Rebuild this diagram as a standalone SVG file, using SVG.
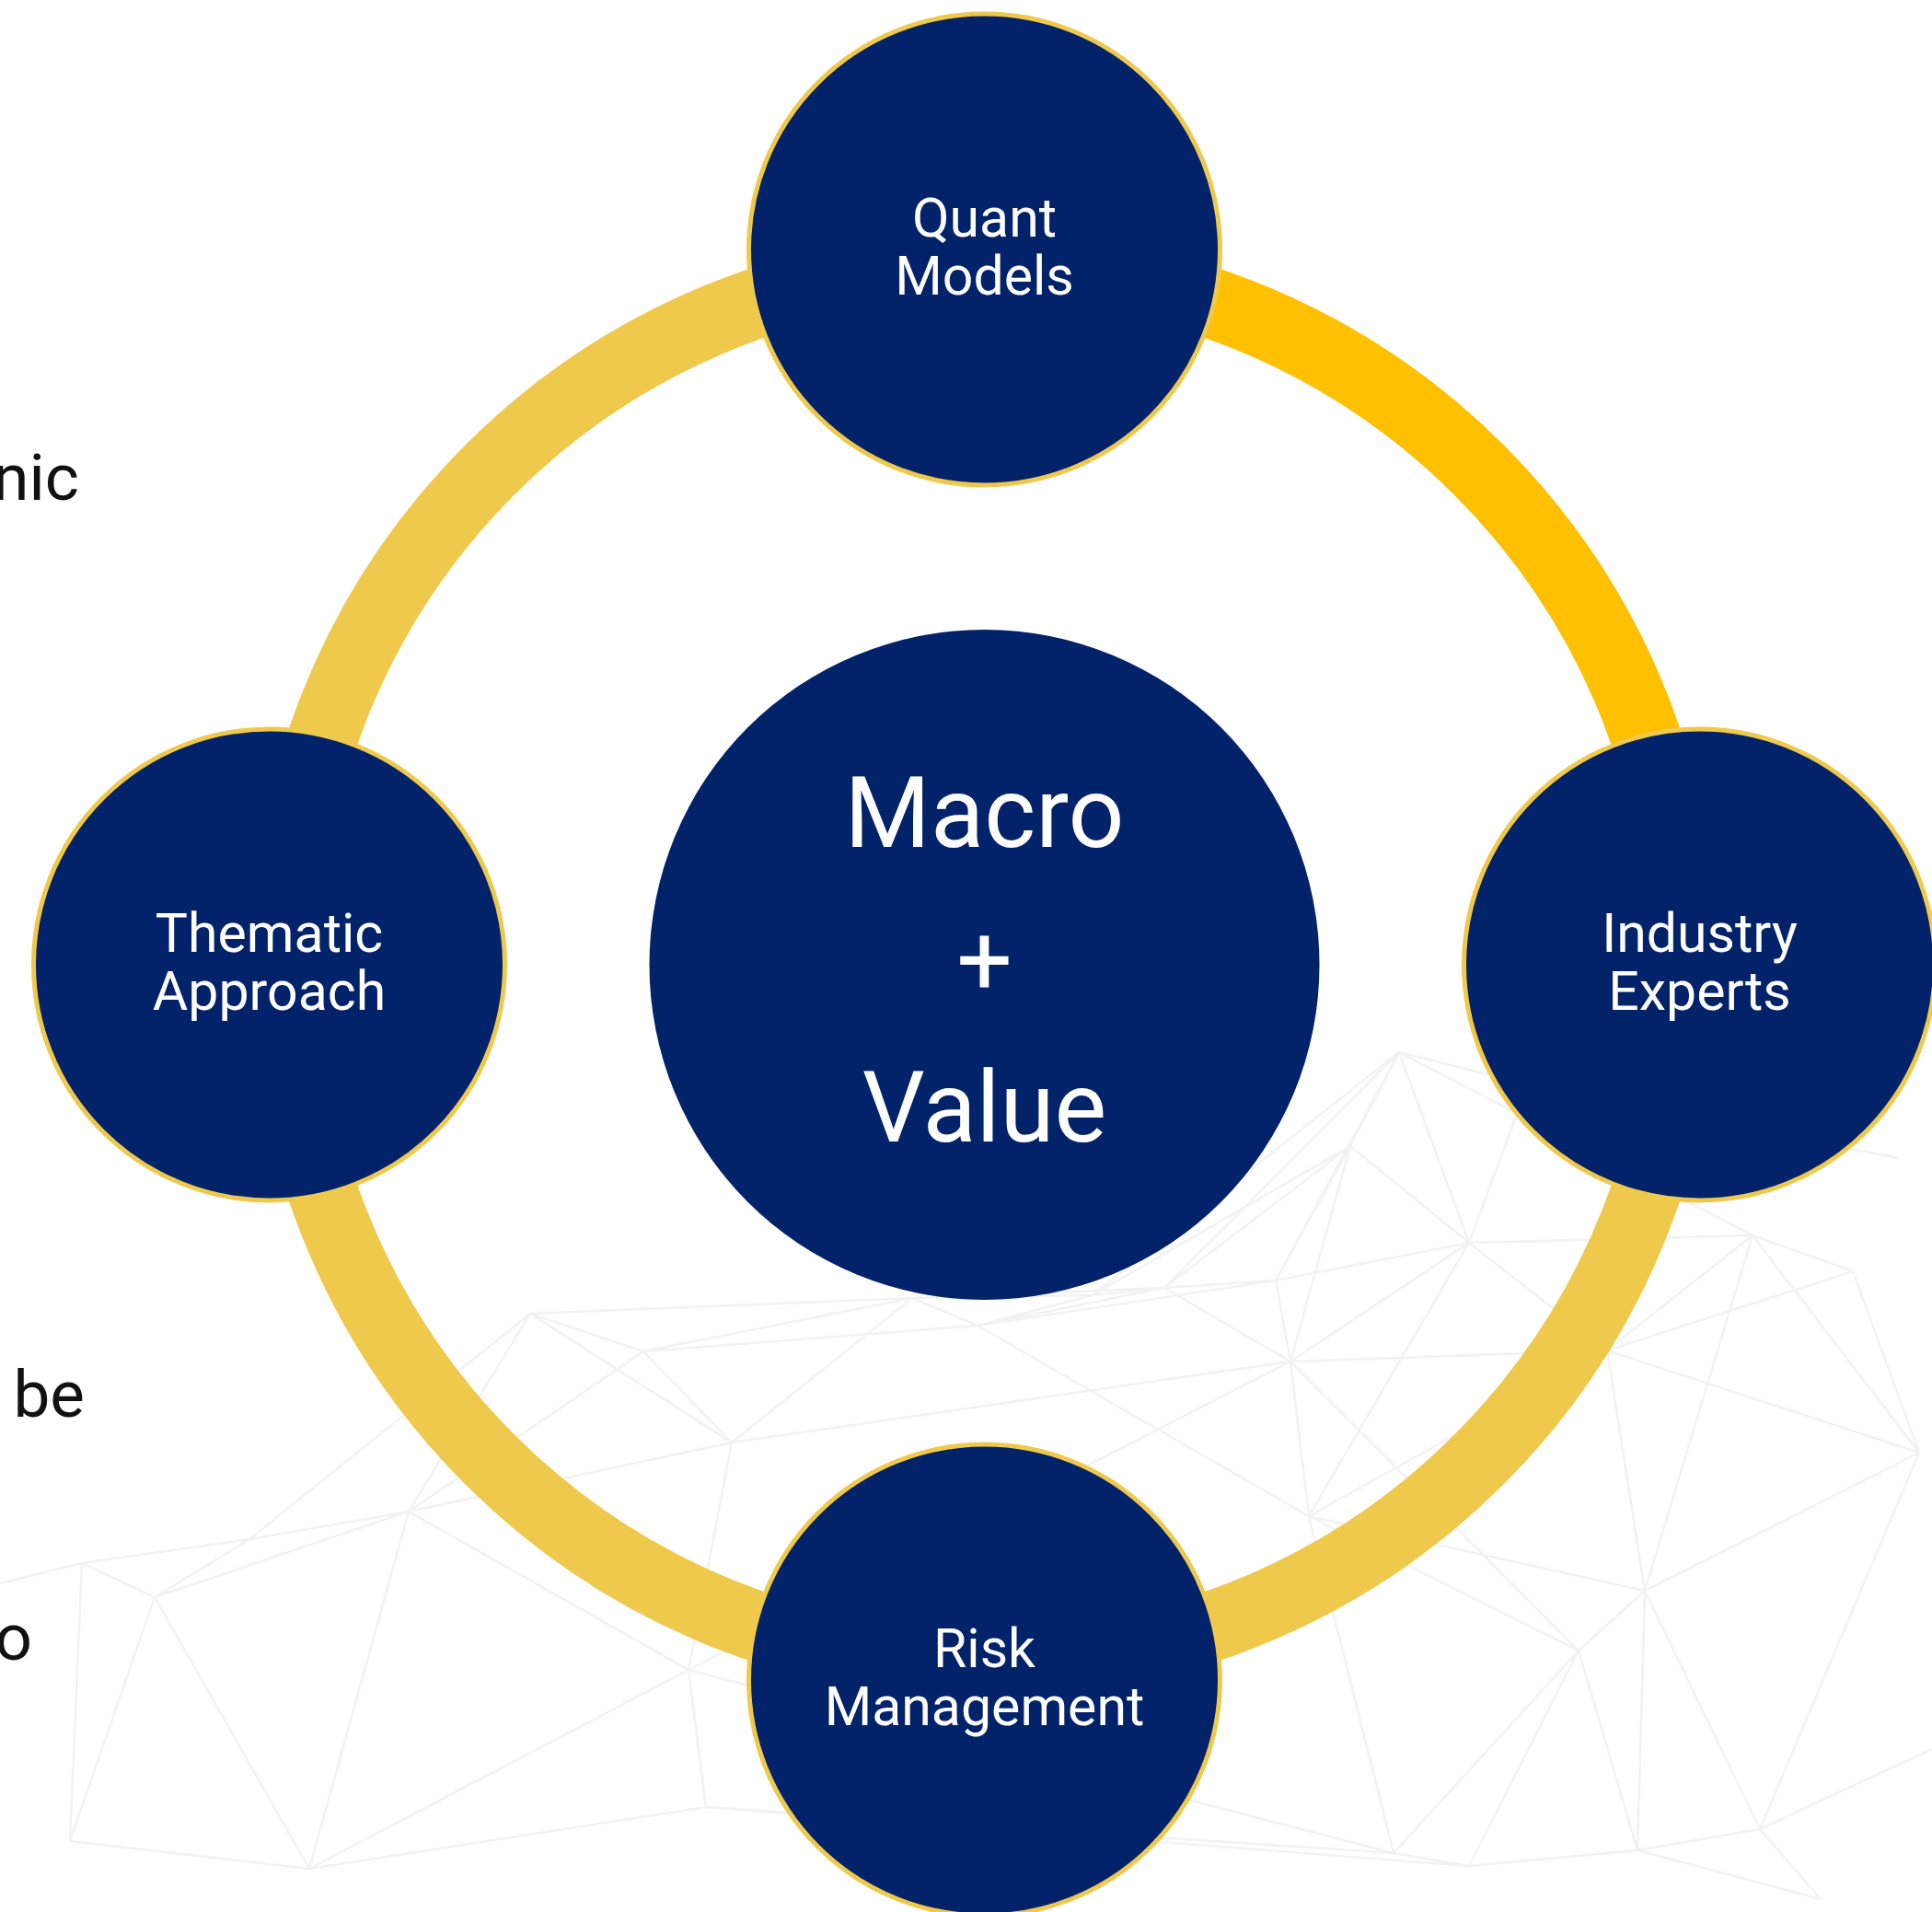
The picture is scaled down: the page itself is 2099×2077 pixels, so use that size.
<svg xmlns="http://www.w3.org/2000/svg" width="2099" height="2077" viewBox="0 0 2099 2077">
<style>
.bgl{stroke:#ececec;stroke-width:2.5;fill:none;opacity:0.7}
.ring{fill:none;stroke:#EFC94C;stroke-width:76}
.ringhi{fill:none;stroke:#FFC000;stroke-width:76}
.sat{fill:#022269;stroke:#EFC94C;stroke-width:5}
.core{fill:#022269}
.lbl{font-family:Roboto,"Liberation Sans",sans-serif;font-size:59px;fill:#ffffff;text-anchor:middle}
.big{font-family:Roboto,"Liberation Sans",sans-serif;font-size:107px;fill:#ffffff;text-anchor:middle}
.side{font-family:Roboto,"Liberation Sans",sans-serif;font-size:71px;fill:#111111;text-anchor:end}
</style>
<rect width="2099" height="2077" fill="#ffffff"/>
<g id="background">
<path class="bgl" d="M1520 1143L1467 1245M1520 1143L1596 1350M1520 1143L1386 1391M1520 1143L1904 1342M1520 1143L1660 1178M1520 1143L1265 1399M1520 1143L1187 1407M1660 1178L2062 1258M1660 1178L1596 1350M1467 1245L1596 1350M1467 1245L1386 1391M1467 1245L1265 1399M1467 1245L1402 1479M1467 1245L1187 1407M1596 1350L1386 1391M1596 1350L1402 1479M1596 1350L1904 1342M1596 1350L1746 1467M1596 1350L1422 1647M1386 1391L1265 1399M1386 1391L1402 1479M1386 1391L1062 1440M1265 1399L1187 1407M1265 1399L1062 1440M1265 1399L1402 1479M1265 1399L991 1410M1402 1479L1422 1647M1402 1479L1746 1467M1402 1479L795 1567M1402 1479L1715 1793M1904 1342L2013 1381M1904 1342L1746 1467M1904 1342L1787 1728M1904 1342L2085 1578M2013 1381L2085 1578M2013 1381L1746 1467M1746 1467L1787 1728M1746 1467L1422 1647M1746 1467L2085 1578M1422 1647L1715 1793M1422 1647L1514 2013M1422 1647L1787 1728M2085 1578L1912 1987M2085 1578L1787 1728M1787 1728L1715 1793M1787 1728L1779 2010M1787 1728L1912 1987M1715 1793L1514 2013M1715 1793L1596 2027M1715 1793L1779 2010M1514 2013L1596 2027M1514 2013L767 1963M1596 2027L1779 2010M1779 2010L1912 1987M1779 2010L1978 2063M1912 1987L1978 2063M1912 1987L2099 1900M576 1427L699 1468M576 1427L444 1642M576 1427L271 1672M576 1427L795 1567M576 1427L991 1410M699 1468L795 1567M699 1468L991 1410M699 1468L444 1642M699 1468L1062 1440M795 1567L991 1410M795 1567L748 1814M795 1567L444 1642M991 1410L1062 1440M991 1410L1187 1407M1062 1440L1187 1407M444 1642L271 1672M444 1642L168 1735M444 1642L748 1814M444 1642L336 2030M271 1672L89 1698M271 1672L168 1735M89 1698L168 1735M89 1698L76 2000M89 1698L0 1720M168 1735L336 2030M168 1735L76 2000M748 1814L767 1963M748 1814L336 2030M748 1814L1514 2013M767 1963L336 2030M767 1963L1596 2027M336 2030L76 2000M1187 1407L1467 1245M1062 1440L1422 1647M748 1814L1402 1479"/>
</g>
<g id="connectors">
<circle class="ring" cx="1069.5" cy="1048" r="760"/>
<path class="ringhi" d="M1069.5 288A760 760 0 0 1 1829.5 1048"/>
</g>
<g id="node-quant">
<circle class="sat" cx="1069.5" cy="271" r="256"/>
<text class="lbl" x="1069.5" y="257">Quant</text>
<text class="lbl" x="1069.5" y="320">Models</text>
</g>
<g id="node-thematic">
<circle class="sat" cx="292.5" cy="1048" r="256"/>
<text class="lbl" x="292.5" y="1034">Thematic</text>
<text class="lbl" x="292.5" y="1097">Approach</text>
</g>
<g id="node-industry">
<circle class="sat" cx="1846.5" cy="1048" r="256"/>
<text class="lbl" x="1846.5" y="1034">Industry</text>
<text class="lbl" x="1846.5" y="1097">Experts</text>
</g>
<g id="node-risk">
<circle class="sat" cx="1069.5" cy="1825" r="256"/>
<text class="lbl" x="1069.5" y="1811">Risk</text>
<text class="lbl" x="1069.5" y="1874">Management</text>
</g>
<g id="node-center">
<circle class="core" cx="1069.5" cy="1048" r="364"/>
<text class="big" x="1069.5" y="920">Macro</text>
<text class="big" x="1069.5" y="1080">+</text>
<text class="big" x="1069.5" y="1240">Value</text>
</g>
<g id="side-text">
<text class="side" x="86" y="543">nic</text>
<text class="side" x="92" y="1539">be</text>
<text class="side" x="35" y="1803">o</text>
</g>
</svg>
